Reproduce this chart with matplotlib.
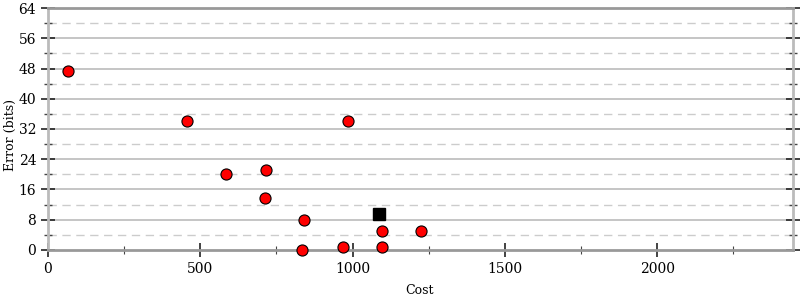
import matplotlib
matplotlib.use("Agg")
import matplotlib.pyplot as plt
from matplotlib.ticker import MultipleLocator

cost = [66, 456, 984, 584, 715, 712, 839, 833, 967, 1095, 1223, 1095]
error = [47.4, 34.1, 34.1, 20.1, 21.2, 13.8, 7.9, 0.0, 0.8, 5.0, 5.0, 0.8]
ref_cost = [1085]
ref_error = [9.5]

plt.rcParams['font.family'] = ['DejaVu Serif']
fig = plt.figure(figsize=(8, 3), dpi=100)
ax = fig.add_axes([0.06, 0.1667, 0.931, 0.8066])

ax.set_xlim(0, 2445)
ax.set_ylim(0, 64)

for y in range(8, 64, 8):
    ax.axhline(y, color='#bbbbbb', lw=1.2, zorder=0)
for y in range(4, 64, 8):
    ax.axhline(y, color='#cccccc', lw=1.0, ls=(0, (6, 4)), zorder=0)

ax.plot(cost, error, 'o', ms=8, mfc='red', mec='black', mew=0.8, zorder=3, clip_on=False)
ax.plot(ref_cost, ref_error, 's', ms=8.5, mfc='black', mec='black', zorder=3)

ax.xaxis.set_major_locator(MultipleLocator(500))
ax.xaxis.set_minor_locator(MultipleLocator(250))
ax.yaxis.set_major_locator(MultipleLocator(8))
ax.yaxis.set_minor_locator(MultipleLocator(4))

ax.tick_params(axis='y', which='major', direction='inout', length=10, width=1.2, left=True, right=True, labelsize=10, color='#222222')
ax.tick_params(axis='y', which='minor', direction='inout', length=6, width=1, left=True, right=True, color='#444444')
ax.tick_params(axis='x', which='major', direction='inout', length=10, width=1.2, top=False, labelsize=10, color='#222222')
ax.tick_params(axis='x', which='minor', direction='inout', length=6, width=0.8, top=False, color='#444444')

ax.spines['left'].set_color('#bbbbbb')
ax.spines['left'].set_linewidth(2)
ax.spines['right'].set_color('#bbbbbb')
ax.spines['right'].set_linewidth(2)
ax.spines['bottom'].set_color('#999999')
ax.spines['bottom'].set_linewidth(2)
ax.spines['top'].set_color('#999999')
ax.spines['top'].set_linewidth(2)

fig.text(420 / 800, 1 - 290 / 300, 'Cost', fontsize=9, ha='center', va='center')
fig.text(10 / 800, 1 - 135 / 300, 'Error (bits)', fontsize=9, ha='center', va='center', rotation=90)

fig.savefig('out.png', dpi=100)
